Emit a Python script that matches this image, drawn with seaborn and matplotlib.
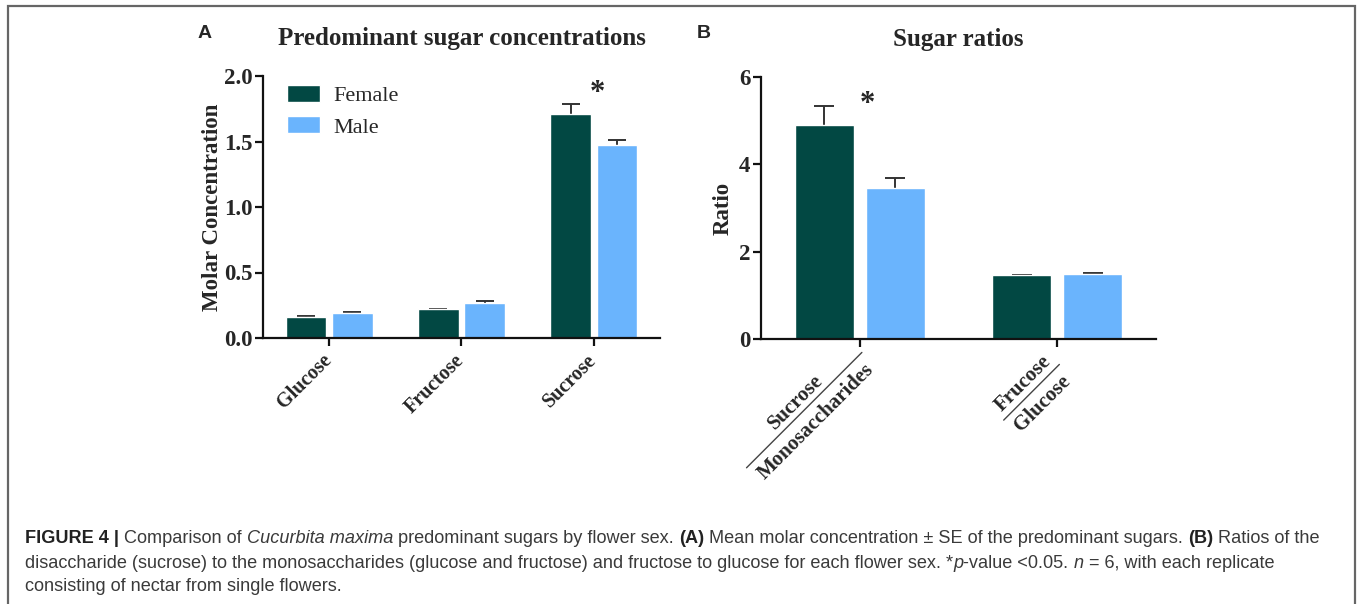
import matplotlib
matplotlib.use('Agg')
import matplotlib.pyplot as plt
import seaborn as sns
import pandas as pd
import numpy as np
from matplotlib.patches import Rectangle
from matplotlib.lines import Line2D

# Panel A values (mean molar concentration +- SE)
sugars = ['Glucose', 'Fructose', 'Sucrose']
female_conc = [0.16, 0.22, 1.71]
male_conc = [0.19, 0.27, 1.47]
female_conc_se = [0.006, 0.005, 0.075]
male_conc_se = [0.006, 0.015, 0.04]

# Panel B values (ratios +- SE)
ratios = ['Sucrose/Monosaccharides', 'Frucose/Glucose']
ratio_num = ['Sucrose', 'Frucose']
ratio_den = ['Monosaccharides', 'Glucose']
female_ratio = [4.90, 1.465]
male_ratio = [3.45, 1.50]
female_ratio_se = [0.44, 0.01]
male_ratio_se = [0.23, 0.01]

sexes = ['Female', 'Male']
palette = {'Female': '#024843', 'Male': '#6ab4fd'}

conc_df = pd.DataFrame({
    'sugar': sugars * 2,
    'sex': ['Female'] * 3 + ['Male'] * 3,
    'value': female_conc + male_conc,
})
ratio_df = pd.DataFrame({
    'ratio': ratios * 2,
    'sex': ['Female'] * 2 + ['Male'] * 2,
    'value': female_ratio + male_ratio,
})

sns.set_style('ticks')
plt.rcParams['font.family'] = ['Liberation Serif', 'DejaVu Serif']

W, H = 1357, 604
fig = plt.figure(figsize=(W / 100, H / 100), dpi=100)
fig.patch.set_facecolor('white')
renderer = fig.canvas.get_renderer()

axA = fig.add_axes([263 / W, 1 - 338 / H, 397 / W, 262 / H])
axB = fig.add_axes([761 / W, 1 - 339 / H, 395 / W, 262 / H])


def style_axis(ax):
    sns.despine(ax=ax)
    for s in ['left', 'bottom']:
        ax.spines[s].set_linewidth(1.6)
        ax.spines[s].set_color('#111111')
    ax.tick_params(axis='both', direction='out', length=6, width=1.6, color='#111111')
    ax.tick_params(axis='y', labelsize=16.5, pad=1.5)
    for lab in ax.get_yticklabels():
        lab.set_fontweight('bold')
    ax.set_xlabel('')


def add_errors(ax, se_lists, capsize):
    # symmetric bars drawn behind the columns so only the upper half shows
    for cont, se in zip(ax.containers, se_lists):
        for bar, s in zip(cont, se):
            x = bar.get_x() + bar.get_width() / 2
            y = bar.get_height()
            ax.errorbar(x, y, yerr=s, fmt='none', ecolor='#333333',
                        elinewidth=1.4, capsize=capsize, capthick=1.4, zorder=0.5)


def fraction_label(ax, xpos, num, den, drop=0, size=15):
    # rotated "num over den" label hanging from the tick at xpos
    px, py = ax.transData.transform((xpos, ax.get_ylim()[0]))
    py -= drop
    u = np.array([np.cos(np.pi / 4), np.sin(np.pi / 4)])
    n = np.array([-np.sin(np.pi / 4), np.cos(np.pi / 4)])
    kw = dict(fontsize=size, fontweight='bold', rotation=45, rotation_mode='anchor',
              ha='center', va='center')
    widths = []
    for word in (num, den):
        t = fig.text(0, 0, word, fontsize=size, fontweight='bold')
        widths.append(t.get_window_extent(renderer=renderer).width)
        t.remove()
    L = max(widths) + 8
    end = np.array([px, py]) - 8 * u - 11 * n
    mid = end - L / 2 * u
    start = end - L * u
    fig.add_artist(Line2D([start[0] / W, end[0] / W], [start[1] / H, end[1] / H],
                          transform=fig.transFigure, color='#444444', lw=1.0))
    pn = mid + 12 * n
    pd_ = mid - 16 * n
    fig.text(pn[0] / W, pn[1] / H, num, **kw)
    fig.text(pd_[0] / W, pd_[1] / H, den, **kw)


# ---- Panel A ----
sns.barplot(data=conc_df, x='sugar', y='value', hue='sex', hue_order=sexes,
            palette=palette, width=0.7, gap=0.12, errorbar=None, ax=axA,
            saturation=1)
add_errors(axA, [female_conc_se, male_conc_se], 6.5)
axA.set_xlim(-0.5, 2.5)
axA.set_ylim(0, 2.0)
axA.set_yticks([0, 0.5, 1.0, 1.5, 2.0])
axA.set_yticklabels(['0.0', '0.5', '1.0', '1.5', '2.0'])
style_axis(axA)
axA.set_xticks(range(len(sugars)))
axA.set_xticklabels(sugars, rotation=45, ha='right', va='center', rotation_mode='anchor',
                    fontsize=14.5, fontweight='bold')
axA.tick_params(axis='x', pad=8)
axA.set_ylabel('Molar Concentration', fontsize=16.5, fontweight='bold', labelpad=1)
axA.set_title('Predominant sugar concentrations', fontsize=18, fontweight='bold', pad=22)
axA.text(2.03, 1.87, '*', ha='center', va='center', fontsize=22, fontweight='bold')
sns.move_legend(axA, 'upper left', bbox_to_anchor=(0.06, 0.965), frameon=False, title=None,
                fontsize=16, handlelength=1.5, handleheight=0.8, handletextpad=0.6,
                labelspacing=0.45, borderpad=0, borderaxespad=0)

# ---- Panel B ----
sns.barplot(data=ratio_df, x='ratio', y='value', hue='sex', hue_order=sexes,
            palette=palette, width=0.72, gap=0.17, errorbar=None, ax=axB,
            saturation=1, legend=False)
add_errors(axB, [female_ratio_se, male_ratio_se], 7)
axB.set_xlim(-0.5, 1.5)
axB.set_ylim(0, 6)
axB.set_yticks([0, 2, 4, 6])
style_axis(axB)
axB.set_xticks(range(len(ratios)))
axB.set_xticklabels([])
label_drop = [0, 12]
for i, (nm, dn) in enumerate(zip(ratio_num, ratio_den)):
    fraction_label(axB, i, nm, dn, drop=label_drop[i])
axB.set_ylabel('Ratio', fontsize=16.5, fontweight='bold', labelpad=4)
axB.set_title('Sugar ratios', fontsize=18, fontweight='bold', pad=22)
axB.text(0.04, 5.38, '*', ha='center', va='center', fontsize=22, fontweight='bold')

# panel letters
fig.text(198 / W, 1 - 33 / H, 'A', fontsize=14, fontweight='bold',
         family=['Liberation Sans', 'DejaVu Sans'], va='center')
fig.text(697 / W, 1 - 33 / H, 'B', fontsize=14, fontweight='bold',
         family=['Liberation Sans', 'DejaVu Sans'], va='center')

# figure border
fig.patches.append(Rectangle((8 / W, -0.05), 1347 / W, 1.05 - 6 / H, transform=fig.transFigure,
                             fill=False, edgecolor='#666666', linewidth=1.6))

# caption with mixed styles
cap_lines = [
    [('FIGURE 4 | ', 'bold'), ('Comparison of ', 'normal'), ('Cucurbita maxima', 'italic'),
     (' predominant sugars by flower sex. ', 'normal'), ('(A)', 'bold'),
     (' Mean molar concentration \u00b1 SE of the predominant sugars. ', 'normal'),
     ('(B)', 'bold'), (' Ratios of the', 'normal')],
    [('disaccharide (sucrose) to the monosaccharides (glucose and fructose) and fructose to glucose '
      'for each flower sex. *', 'normal'), ('p', 'italic'), ('-value <0.05. ', 'normal'),
     ('n', 'italic'), (' = 6, with each replicate', 'normal')],
    [('consisting of nectar from single flowers.', 'normal')],
]
cap_base = [543, 568, 591]
for parts, yb in zip(cap_lines, cap_base):
    x = 25
    for txt, st in parts:
        t = fig.text(x / W, 1 - yb / H, txt, fontsize=13.1, va='baseline',
                     family=['Liberation Sans', 'DejaVu Sans'],
                     fontweight='bold' if st == 'bold' else 'normal',
                     fontstyle='italic' if st == 'italic' else 'normal',
                     color='#222222' if st == 'bold' else '#3a3a3a')
        x += t.get_window_extent(renderer=renderer).width

fig.savefig('out.png', dpi=100)
